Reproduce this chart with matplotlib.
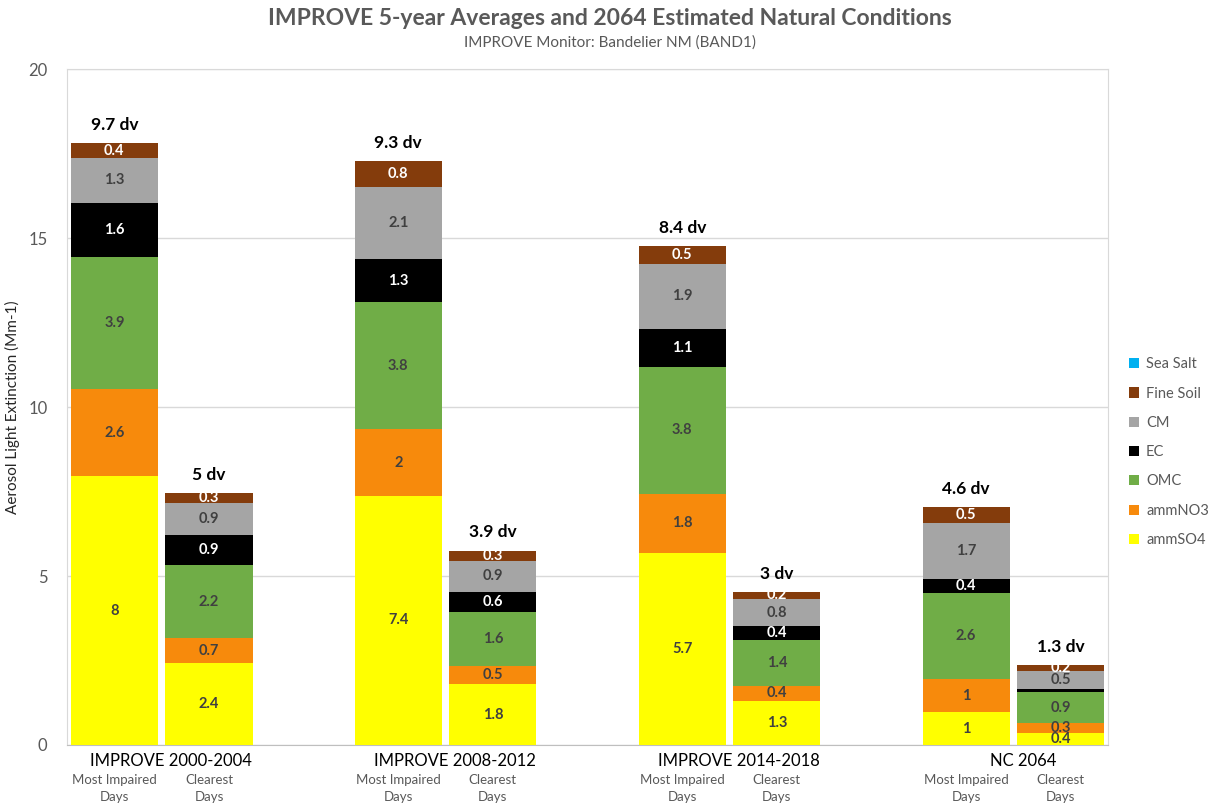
import matplotlib
matplotlib.use("Agg")
import matplotlib.pyplot as plt
import numpy as np
from matplotlib.transforms import blended_transform_factory

plt.rcParams['font.family'] = ['Lato', 'DejaVu Sans']

groups = ["IMPROVE 2000-2004", "IMPROVE 2008-2012", "IMPROVE 2014-2018", "NC 2064"]
sub_labels = ["Most Impaired\nDays", "Clearest\nDays"]
dv_labels = ["9.7 dv", "5 dv", "9.3 dv", "3.9 dv", "8.4 dv", "3 dv", "4.6 dv", "1.3 dv"]
positions = [0, 1, 3, 4, 6, 7, 9, 10]

species = ["ammSO4", "ammNO3", "OMC", "EC", "CM", "Fine Soil", "Sea Salt"]
colors = ["#FFFF00", "#F78A0C", "#70AD47", "#000000", "#A5A5A5", "#843C0C", "#00B0F0"]
label_colors = ["#404040", "#404040", "#404040", "#FFFFFF", "#404040", "#FFFFFF", "#404040"]

ammSO4 = [7.95, 2.42, 7.37, 1.80, 5.68, 1.31, 0.97, 0.36]
ammNO3 = [2.58, 0.74, 1.97, 0.54, 1.75, 0.43, 0.97, 0.29]
OMC = [3.92, 2.17, 3.77, 1.60, 3.77, 1.37, 2.57, 0.91]
EC = [1.60, 0.89, 1.27, 0.59, 1.12, 0.41, 0.41, 0.09]
CM = [1.31, 0.94, 2.14, 0.92, 1.92, 0.80, 1.66, 0.54]
FineSoil = [0.44, 0.30, 0.77, 0.30, 0.53, 0.21, 0.47, 0.18]
SeaSalt = [0.002, 0.002, 0.002, 0.002, 0.002, 0.002, 0.002, 0.002]

series = [ammSO4, ammNO3, OMC, EC, CM, FineSoil, SeaSalt]

fig = plt.figure(figsize=(12.19, 8.06), dpi=100)
ax = fig.add_axes([0.055, 0.0757, 0.854, 0.8385])

bottom = np.zeros(len(positions))
width = 0.92
for name, vals, col, lc in zip(species, series, colors, label_colors):
    vals = np.array(vals)
    ax.bar(positions, vals, width, bottom=bottom, color=col, label=name, zorder=3)
    if name != "Sea Salt":
        for x, b, v in zip(positions, bottom, vals):
            if v >= 0.15:
                ax.text(x, b + v / 2, f"{round(v, 1):g}", ha="center", va="center",
                        color=lc, fontsize=10.5, fontweight="bold", zorder=4)
    bottom += vals

for x, t, lab in zip(positions, bottom, dv_labels):
    ax.text(x, t + 0.3, lab, ha="center", va="bottom", fontsize=12.5,
            fontweight="bold", color="black", zorder=4)

ax.set_xlim(-0.5, 10.5)
ax.set_ylim(0, 20)
ax.set_yticks([0, 5, 10, 15, 20])
ax.tick_params(axis="y", length=0, labelsize=12, labelcolor="#595959", pad=14)
ax.set_xticks([])
ax.grid(axis="y", color="#D9D9D9", linewidth=1, zorder=0)
for s in ["left", "right", "top"]:
    ax.spines[s].set_color("#D9D9D9")
ax.spines["bottom"].set_color("#BFBFBF")

ax.set_ylabel("Aerosol Light Extinction (Mm-1)", fontsize=11, color="#262626", labelpad=6)

trans = blended_transform_factory(ax.transData, ax.transAxes)
for i, g in enumerate(groups):
    p0, p1 = positions[2 * i], positions[2 * i + 1]
    ax.text((p0 + p1) / 2 + 0.1, -0.012, g, transform=trans, ha="center", va="top",
            fontsize=12, color="black")
    for p, sl in zip([p0, p1], sub_labels):
        ax.text(p, -0.043, sl, transform=trans, ha="center", va="top",
                fontsize=9.5, color="#595959", linespacing=1.5)

fig.text(0.5, 0.977, "IMPROVE 5-year Averages and 2064 Estimated Natural Conditions",
         ha="center", va="center", fontsize=16.5, fontweight="bold", color="#595959")
fig.text(0.5, 0.947, "IMPROVE Monitor: Bandelier NM (BAND1)",
         ha="center", va="center", fontsize=11, color="#595959")

handles, labels = ax.get_legend_handles_labels()
leg = fig.legend(handles[::-1], labels[::-1], loc="center left",
                 bbox_to_anchor=(0.915, 0.439), frameon=False, fontsize=10.5,
                 handlelength=0.7, handleheight=0.7, labelspacing=1.05,
                 handletextpad=0.5, labelcolor="#595959")

fig.savefig("out.png", dpi=100)
